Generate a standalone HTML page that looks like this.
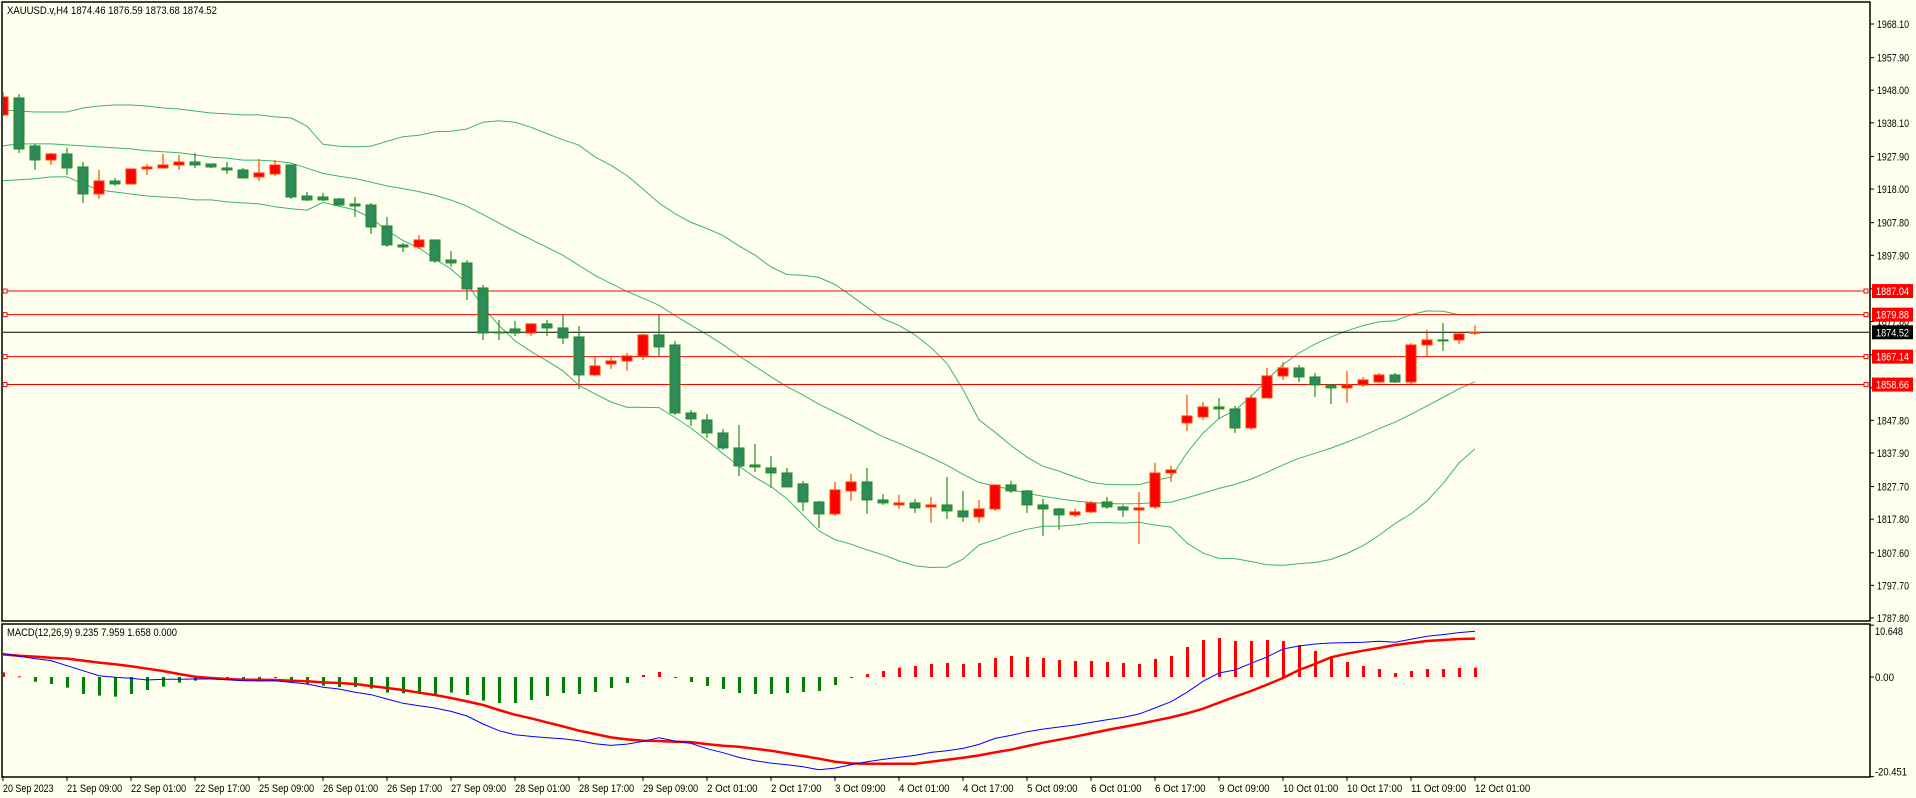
<!DOCTYPE html>
<html><head><meta charset="utf-8"><title>XAUUSD H4</title>
<style>
html,body{margin:0;padding:0;background:#fffff0;}
svg{display:block;font-family:"Liberation Sans",sans-serif;}
</style></head>
<body>
<svg id="chart" width="1916" height="798" viewBox="0 0 1916 798" xmlns="http://www.w3.org/2000/svg">
<rect x="0" y="0" width="1916" height="798" fill="#fffff0"/>
<g id="mainPanel"></g>
<g id="macdPanel"></g>
<g id="axes"></g>
<rect x="2" y="2" width="1868" height="619" fill="none" stroke="#000" stroke-width="1.5"/>
<rect x="2" y="624" width="1868" height="153" fill="none" stroke="#000" stroke-width="1.5"/>
<text x="7" y="14" font-size="11" fill="#000" textLength="210" lengthAdjust="spacingAndGlyphs">XAUUSD.v,H4  1874.46 1876.59 1873.68 1874.52</text>
<text x="7" y="636" font-size="11" fill="#000" textLength="170" lengthAdjust="spacingAndGlyphs">MACD(12,26,9) 9.235 7.959 1.658 0.000</text>
</svg>
<script>
const opens=[1940.49,1945.65,1931.08,1926.83,1928.65,1924.71,1916.51,1920.46,1919.55,1924.10,1924.40,1925.31,1926.22,1925.62,1924.40,1923.80,1921.67,1922.58,1925.31,1915.90,1915.60,1914.99,1913.47,1913.17,1906.80,1901.03,1900.42,1902.55,1896.48,1895.57,1887.98,1874.63,1875.54,1874.32,1877.06,1875.84,1873.11,1861.58,1864.91,1865.83,1867.34,1873.72,1870.68,1850.04,1847.92,1843.97,1839.42,1834.26,1833.35,1831.83,1828.50,1823.03,1819.39,1826.37,1829.10,1823.64,1822.12,1822.73,1821.51,1822.12,1820.30,1818.48,1820.91,1828.19,1826.37,1822.12,1820.91,1819.09,1820.00,1823.03,1821.51,1820.60,1821.51,1831.83,1847.01,1848.83,1851.86,1851.26,1845.49,1854.60,1861.27,1863.70,1860.97,1858.54,1857.63,1858.54,1859.45,1861.58,1859.45,1870.68,1872.20,1872.20,1874.46];
const highs=[1947.47,1946.86,1931.69,1928.95,1930.47,1926.22,1923.80,1921.37,1924.10,1925.62,1928.65,1928.35,1928.95,1925.62,1926.22,1924.40,1927.13,1926.83,1925.31,1917.12,1916.81,1915.30,1915.60,1913.78,1909.53,1901.64,1904.07,1902.55,1899.21,1896.48,1888.89,1878.27,1877.97,1877.36,1878.27,1879.79,1876.45,1867.04,1867.04,1868.25,1874.02,1879.79,1871.90,1850.95,1849.74,1845.19,1846.40,1840.64,1837.00,1833.35,1829.41,1823.34,1829.10,1831.53,1833.35,1825.46,1825.16,1823.94,1824.55,1830.62,1826.37,1823.64,1828.19,1829.41,1826.68,1823.94,1821.21,1820.91,1823.34,1824.55,1822.12,1826.07,1834.87,1833.96,1855.51,1853.38,1854.60,1852.17,1855.51,1863.70,1865.52,1864.61,1862.18,1858.54,1862.79,1860.97,1862.18,1862.18,1871.29,1875.23,1877.36,1874.63,1876.59];
const lows=[1940.18,1928.95,1923.80,1925.31,1922.28,1913.78,1914.99,1918.94,1919.55,1922.28,1924.40,1923.80,1924.40,1924.40,1922.58,1921.37,1920.46,1921.97,1914.99,1914.39,1914.39,1913.17,1909.53,1904.37,1900.42,1898.91,1899.82,1895.57,1894.35,1884.34,1872.20,1872.20,1873.41,1873.41,1873.41,1870.99,1857.32,1861.27,1863.40,1862.79,1866.13,1867.34,1849.43,1846.10,1842.46,1838.82,1830.92,1832.13,1827.28,1827.58,1820.30,1815.14,1818.78,1823.34,1819.39,1822.12,1820.91,1819.69,1816.66,1817.87,1816.96,1816.66,1820.30,1825.76,1819.69,1812.71,1814.53,1818.48,1819.69,1820.91,1818.48,1810.29,1820.91,1829.10,1844.58,1847.92,1848.22,1843.97,1844.88,1854.60,1860.06,1859.45,1854.90,1852.77,1853.08,1857.93,1859.15,1859.15,1858.84,1867.34,1868.86,1870.99,1873.68];
const closes=[1945.95,1930.17,1926.83,1928.65,1924.40,1916.51,1920.46,1919.55,1924.10,1924.71,1925.31,1926.22,1925.31,1924.71,1923.80,1921.37,1922.89,1925.31,1915.60,1914.69,1914.69,1913.17,1912.87,1906.48,1901.03,1900.42,1902.55,1896.18,1895.57,1887.68,1874.32,1874.48,1874.32,1877.06,1875.84,1872.81,1861.58,1864.31,1865.83,1867.34,1873.72,1870.08,1850.04,1848.22,1843.97,1839.42,1833.96,1833.65,1831.83,1827.58,1823.03,1819.39,1826.68,1829.10,1823.64,1822.73,1822.73,1821.21,1822.12,1820.30,1818.48,1820.91,1828.19,1826.37,1822.12,1820.91,1819.09,1820.00,1822.73,1821.51,1820.60,1821.21,1831.83,1832.74,1849.13,1851.86,1851.26,1845.49,1854.60,1861.27,1863.70,1860.97,1858.54,1857.63,1858.54,1860.06,1861.58,1859.45,1870.68,1872.20,1871.90,1874.02,1874.52];
const bandUpperWarmup=[1942.0,1941.7,1941.4,1941.4,1941.4,1942.6,1943.2,1943.5,1943.5,1943.2,1942.6,1942.3,1941.7,1941.1,1940.8,1940.5,1940.5,1939.9,1939.6];
const bandMidWarmup=[1931.1,1931.7,1931.7,1931.7,1931.4,1931.1,1930.8,1930.5,1930.2,1929.6,1929.3,1929.0,1928.4,1927.7,1927.4,1926.8,1926.8,1926.5,1925.9];
const bandLowerWarmup=[1920.5,1920.8,1921.1,1921.7,1921.7,1919.6,1917.7,1917.1,1916.5,1915.9,1915.6,1915.3,1914.7,1914.7,1914.1,1913.8,1913.5,1912.6,1912.0];
const macdMain=[4.86,4.25,3.77,3.36,2.33,1.30,0.27,-0.07,-0.27,-0.62,-0.48,-0.48,-0.41,-0.41,-0.55,-0.75,-0.82,-0.75,-1.10,-1.44,-2.12,-2.47,-3.15,-3.63,-4.52,-5.41,-5.89,-6.37,-7.06,-8.01,-9.66,-11.03,-11.85,-12.19,-12.47,-12.67,-13.08,-13.70,-14.04,-13.77,-13.22,-12.47,-13.15,-13.63,-14.73,-15.55,-16.51,-17.19,-17.67,-18.02,-18.43,-19.04,-18.70,-18.02,-17.40,-16.92,-16.51,-16.10,-15.48,-15.14,-14.66,-13.84,-12.60,-11.99,-11.23,-10.69,-10.27,-9.86,-9.32,-8.77,-8.29,-7.60,-6.37,-5.07,-3.15,-0.89,0.82,1.44,2.81,4.11,5.75,6.37,6.78,6.99,7.06,7.12,7.33,7.12,7.74,8.36,8.70,9.11,9.38];
const macdSignal=[4.66,4.38,4.18,3.97,3.77,3.36,2.95,2.60,2.19,1.71,1.23,0.62,0.07,-0.21,-0.41,-0.55,-0.55,-0.62,-0.75,-0.89,-1.10,-1.23,-1.44,-1.85,-2.26,-2.67,-3.22,-3.70,-4.32,-5.00,-5.75,-6.78,-7.74,-8.49,-9.32,-10.14,-11.03,-11.71,-12.40,-12.81,-13.08,-13.15,-13.29,-13.36,-13.77,-14.11,-14.32,-14.73,-15.14,-15.69,-16.23,-16.78,-17.40,-17.74,-17.81,-17.81,-17.81,-17.81,-17.40,-16.99,-16.58,-16.10,-15.48,-14.93,-14.18,-13.49,-12.88,-12.26,-11.58,-10.89,-10.27,-9.66,-8.97,-8.29,-7.47,-6.51,-5.27,-4.04,-2.88,-1.58,-0.21,1.44,2.67,4.04,4.79,5.41,5.96,6.58,6.99,7.40,7.60,7.81,7.88];
const macdHist=[0.83,0.12,-0.83,-1.24,-1.89,-3.02,-3.31,-3.49,-3.02,-2.31,-1.72,-1.01,-0.65,-0.24,-0.12,-0.36,-0.47,-0.06,-0.77,-1.24,-1.54,-1.78,-1.78,-2.07,-2.78,-2.90,-2.90,-3.02,-2.78,-3.20,-4.20,-4.62,-4.62,-4.08,-3.37,-2.84,-3.02,-2.66,-1.95,-1.07,0.36,0.89,-0.12,-0.89,-1.60,-2.13,-2.84,-3.02,-3.02,-2.84,-2.66,-2.49,-1.42,-0.12,0.53,1.07,1.66,1.95,2.31,2.49,2.31,2.49,3.37,3.73,3.55,3.37,3.02,2.84,2.84,2.66,2.49,2.31,3.20,3.73,5.33,6.57,6.93,6.39,6.39,6.57,6.39,5.68,4.62,3.55,2.66,1.95,1.42,0.71,1.07,1.42,1.42,1.60,1.66];
const priceTicks=[1968.10,1957.90,1948.00,1938.10,1927.90,1918.00,1907.80,1897.90,1887.70,1877.80,1867.70,1857.70,1847.80,1837.90,1827.70,1817.80,1807.60,1797.70,1787.80];
const levelLines=[1887.04,1879.88,1867.14,1858.66];
const bidPrice=1874.52;
const macdTicks=[10.648,0,-20.451];
const macdTickLabels=["10.648","0.00","-20.451"];
const dateLabels=["20 Sep 2023","21 Sep 09:00","22 Sep 01:00","22 Sep 17:00","25 Sep 09:00","26 Sep 01:00","26 Sep 17:00","27 Sep 09:00","28 Sep 01:00","28 Sep 17:00","29 Sep 09:00","2 Oct 01:00","2 Oct 17:00","3 Oct 09:00","4 Oct 01:00","4 Oct 17:00","5 Oct 09:00","6 Oct 01:00","6 Oct 17:00","9 Oct 09:00","10 Oct 01:00","10 Oct 17:00","11 Oct 09:00","12 Oct 01:00"];

const NS="http://www.w3.org/2000/svg";
const xBar=i=>3+16*i;
const yP=p=>24+(1968.1-p)*3.2945;
const yM=v=>677-v*4.87;
const yH=v=>677-v*5.63;
function mk(tag,attrs,parent){const e=document.createElementNS(NS,tag);for(const k in attrs)e.setAttribute(k,attrs[k]);parent.appendChild(e);return e;}
const main=document.getElementById('mainPanel');
const macd=document.getElementById('macdPanel');
const axes=document.getElementById('axes');

const defs=mk('defs',{},document.getElementById('chart'));
const cp=mk('clipPath',{id:'clipMain'},defs);mk('rect',{x:3,y:3,width:1866,height:617},cp);
const cp2=mk('clipPath',{id:'clipMacd'},defs);mk('rect',{x:3,y:625,width:1866,height:151},cp2);
main.setAttribute('clip-path','url(#clipMain)');
macd.setAttribute('clip-path','url(#clipMacd)');

const up=[],mid=[],lo=[];
for(let i=0;i<closes.length;i++){
  if(i<19){up.push(bandUpperWarmup[i]);mid.push(bandMidWarmup[i]);lo.push(bandLowerWarmup[i]);continue;}
  let s=0;for(let j=i-19;j<=i;j++)s+=closes[j];const m=s/20;
  let v=0;for(let j=i-19;j<=i;j++)v+=(closes[j]-m)*(closes[j]-m);const sd=Math.sqrt(v/20);
  up.push(m+2*sd);mid.push(m);lo.push(m-2*sd);
}
[[up,'bb-upper-band'],[mid,'bb-middle-band'],[lo,'bb-lower-band']].forEach(([arr,nm])=>{
  const pl=mk('polyline',{points:arr.map((v,i)=>(i===0?2:xBar(i))+','+yP(v).toFixed(1)).join(' '),fill:'none',stroke:'#3cb371','stroke-width':1},main);
  
  
});

levelLines.forEach(p=>{
  const y=yP(p);
  const l=mk('line',{x1:3,x2:1866,y1:y,y2:y,stroke:'#ff0000','stroke-width':1},main);
  
  
  const s1=mk('rect',{x:3,y:y-2,width:4,height:4,fill:'#fffff0',stroke:'#ff0000','stroke-width':1},main);
  
  
  const s2=mk('rect',{x:1864,y:y-2,width:4,height:4,fill:'#fffff0',stroke:'#ff0000','stroke-width':1},axes);
  
  
});
const bl=mk('line',{x1:3,x2:1869,y1:yP(bidPrice),y2:yP(bidPrice),stroke:'#000','stroke-width':1},main);



for(let i=0;i<opens.length;i++){
  const o=opens[i],h=highs[i],l=lows[i],c=closes[i];
  const bull=c>=o;
  const x=xBar(i);
  const fill=bull?'#ff0000':'#2e8b57';
  const edge=bull?'#ff4500':'#228b22';
  const g=mk('g',{},main);
  
  
  mk('line',{x1:x,x2:x,y1:yP(h),y2:yP(l),stroke:edge,'stroke-width':1.2},g);
  const top=yP(Math.max(o,c)),bot=yP(Math.min(o,c));
  mk('rect',{x:x-5,y:top,width:10,height:Math.max(1,bot-top),fill:fill,stroke:edge,'stroke-width':1},g);
}

for(let i=0;i<macdHist.length;i++){
  const v=macdHist[i];const x=xBar(i);
  const r=mk('rect',{x:x-1,y:Math.min(yH(v),677),width:3,height:Math.max(1,Math.abs(yH(v)-677)),fill:v>=0?'#ff0000':'#008000'},macd);
  
  
}
const sig=mk('polyline',{points:macdSignal.map((v,i)=>(i===0?2:xBar(i))+','+yM(v).toFixed(1)).join(' '),fill:'none',stroke:'#ff0000','stroke-width':2.5},macd);


const mn=mk('polyline',{points:macdMain.map((v,i)=>(i===0?2:xBar(i))+','+yM(v).toFixed(1)).join(' '),fill:'none',stroke:'#0000ff','stroke-width':1},macd);



priceTicks.forEach(p=>{
  const y=yP(p);
  mk('line',{x1:1870,x2:1874,y1:y,y2:y,stroke:'#000','stroke-width':1},axes);
  const t=mk('text',{x:1877,y:y+4,'font-size':11,fill:'#000',textLength:32,lengthAdjust:'spacingAndGlyphs'},axes);
  t.textContent=p.toFixed(2);
  
  
});
levelLines.forEach(p=>{
  const y=yP(p);
  const r=mk('rect',{x:1872,y:y-7,width:41,height:14,fill:'#ff0000'},axes);
  
  
  const t=mk('text',{x:1876,y:y+4,'font-size':11,fill:'#fff',textLength:33,lengthAdjust:'spacingAndGlyphs'},axes);
  t.textContent=p.toFixed(2);
  
  
});
{
  const y=yP(bidPrice);
  const r=mk('rect',{x:1872,y:y-7,width:41,height:14,fill:'#000'},axes);
  
  
  const t=mk('text',{x:1876,y:y+4,'font-size':11,fill:'#fff',textLength:33,lengthAdjust:'spacingAndGlyphs'},axes);
  t.textContent=bidPrice.toFixed(2);
  
  
}
macdTicks.forEach((v,k)=>{
  const y=yM(v);
  mk('line',{x1:1870,x2:1874,y1:y,y2:y,stroke:'#000','stroke-width':1},axes);
  const ty=k===0?y+10:(k===2?y-1:y+4);
  const w=[28,19,32][k];
  const t=mk('text',{x:1875,y:ty,'font-size':11,fill:'#000',textLength:w,lengthAdjust:'spacingAndGlyphs'},axes);
  t.textContent=macdTickLabels[k];
  
  
});
dateLabels.forEach((s,k)=>{
  const x=xBar(k*4);
  mk('line',{x1:x,x2:x,y1:777,y2:781,stroke:'#000','stroke-width':1},axes);
  const w=s.length*4.6;
  const t=mk('text',{x:x,y:792,'font-size':11,fill:'#000',textLength:w.toFixed(1),lengthAdjust:'spacingAndGlyphs'},axes);
  t.textContent=s;
  
  
});
</script>
</body></html>
